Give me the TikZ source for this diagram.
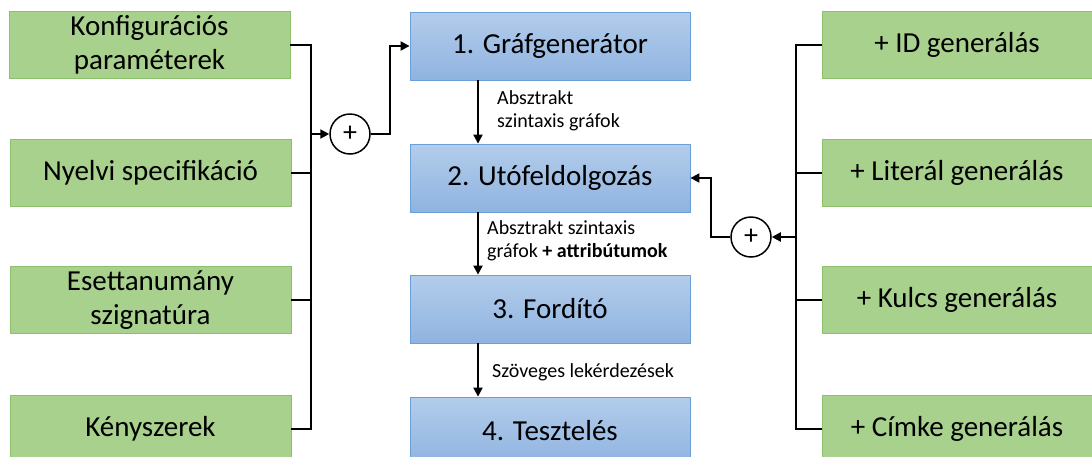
\documentclass[tikz,border=0pt]{standalone}
\usepackage{fontspec}
\setmainfont{Carlito}
\usetikzlibrary{arrows.meta,calc}
\definecolor{gfill}{HTML}{A9D18E}
\definecolor{gdraw}{HTML}{8CC06A}
\definecolor{btop}{HTML}{B3CDEB}
\definecolor{bbot}{HTML}{8FB3E0}
\definecolor{bdraw}{HTML}{6A9FDA}
\tikzset{
  gbox/.style={draw=gdraw, fill=gfill, line width=0.8pt, minimum width=281pt, minimum height=67pt, align=center, font=\fontsize{29}{34}\selectfont, inner sep=0pt},
  bbox/.style={draw=bdraw, top color=btop, bottom color=bbot, line width=0.8pt, minimum width=280pt, minimum height=68pt, align=center, font=\fontsize{29}{34}\selectfont, inner sep=0pt},
  plus/.style={circle, draw, line width=1.5pt, minimum size=40pt, inner sep=0pt, font=\fontsize{28}{28}\selectfont},
  conn/.style={line width=2pt},
  arr/.style={line width=2pt, -{Triangle[length=9pt,width=9pt]}},
  elab/.style={font=\fontsize{20}{23}\selectfont, align=left, anchor=west, inner sep=0pt},
}
\begin{document}
\begin{tikzpicture}[x=1pt,y=-1pt]
\useasboundingbox (0,0) rectangle (1092,456);
\clip (0,0) rectangle (1092,456);
% left inputs
\node[gbox] (L1) at (149.5,45) {Konfigurációs\\paraméterek};
\node[gbox] (L2) at (150.5,173) {Nyelvi specifikáció};
\node[gbox] (L3) at (150.5,300) {Esettanumány\\szignatúra};
\node[gbox] (L4) at (150.5,429) {Kényszerek};
% center pipeline
\node[bbox] (C1) at (550,46) {1. Gráfgenerátor};
\node[bbox] (C2) at (550,178) {2. Utófeldolgozás};
\node[bbox] (C3) at (550,309) {3. Fordító};
\node[bbox] (C4) at (550,431) {4. Tesztelés};
% right inputs
\node[gbox, minimum width=270pt] (R1) at (957,45) {+ ID generálás};
\node[gbox, minimum width=270pt] (R2) at (957,173) {+ Literál generálás};
\node[gbox, minimum width=270pt] (R3) at (957,300) {+ Kulcs generálás};
\node[gbox, minimum width=270pt] (R4) at (957,429) {+ Címke generálás};
% plus circles
\node[plus] (PL) at (350,134) {+};
\node[plus] (PR) at (751,237) {+};
% bus coordinates
\coordinate (bl) at (311,0);
\coordinate (al) at (390,0);
\coordinate (br) at (796,0);
\coordinate (ar) at (711,0);
% left bus
\draw[conn] (L1.east) -- (L1.east -| bl) -- (L4.east -| bl) -- (L4.east);
\draw[conn] (L2.east) -- (L2.east -| bl);
\draw[conn] (L3.east) -- (L3.east -| bl);
\draw[arr] (PL.west -| bl) -- (PL.west);
\draw[arr] (PL.east) -- (PL.east -| al) -- (C1.west -| al) -- (C1.west);
% right bus
\draw[conn] (R1.west) -- (R1.west -| br) -- (R4.west -| br) -- (R4.west);
\draw[conn] (R2.west) -- (R2.west -| br);
\draw[conn] (R3.west) -- (R3.west -| br);
\draw[arr] (PR.east -| br) -- (PR.east);
\draw[arr] (PR.west) -- (PR.west -| ar) -- (C2.east -| ar) -- (C2.east);
% pipeline arrows
\coordinate (px) at (478,0);
\draw[arr] (C1.south -| px) -- (C2.north -| px);
\draw[arr] (C2.south -| px) -- (C3.north -| px);
\draw[arr] (C3.south -| px) -- (C4.north -| px);
% labels
\node[elab] (E1) at (497,111) {Absztrakt\\szintaxis gráfok};
\node[elab] (E2) at (487,241) {Absztrakt szintaxis\\gráfok \textbf{+ attribútumok}};
\node[elab] (E3) at (492,372) {Szöveges lekérdezések};
\end{tikzpicture}
\end{document}
